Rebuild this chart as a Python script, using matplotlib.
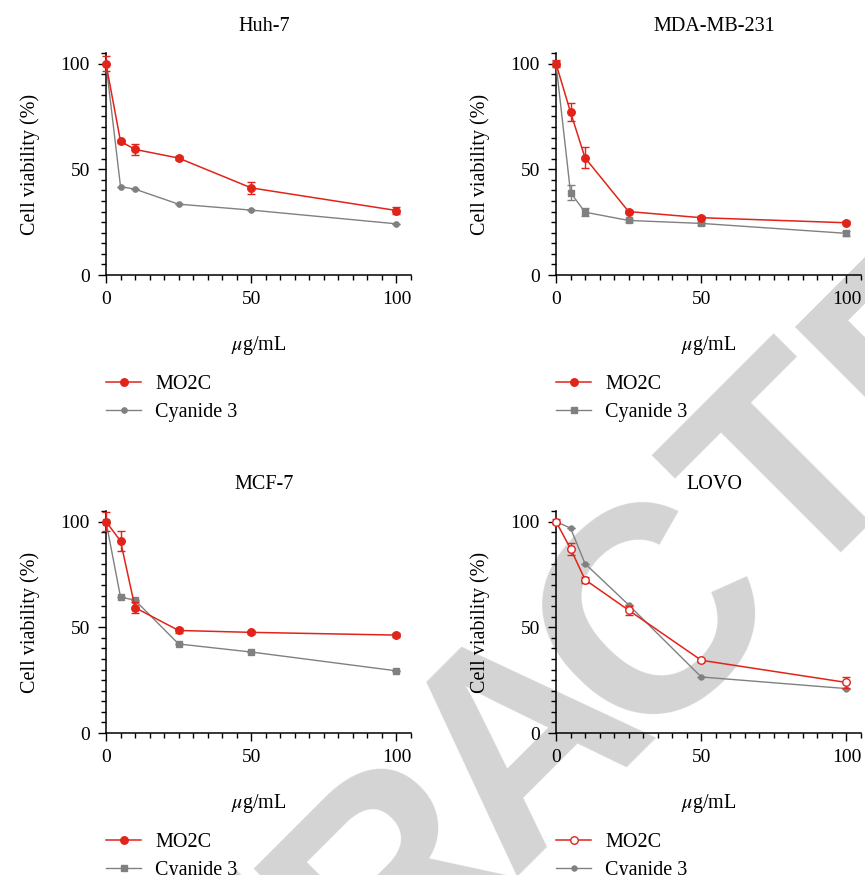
import matplotlib
matplotlib.use("Agg")
import matplotlib.pyplot as plt
from matplotlib.lines import Line2D
from matplotlib.ticker import MultipleLocator

plt.rcParams['font.family'] = 'serif'
plt.rcParams['font.serif'] = ['Liberation Serif', 'DejaVu Serif']
plt.rcParams['mathtext.fontset'] = 'stix'

RED = '#e2231a'
GRAY = '#808080'

conc = [0, 5, 10, 25, 50, 100]

huh7_mo2c = [100, 63.2, 59.4, 55.3, 41.2, 30.5]
huh7_mo2c_err = [3.5, 0.8, 2.6, 1.0, 2.7, 1.6]
huh7_cyan = [100, 41.8, 40.6, 33.5, 30.7, 24.2]
huh7_cyan_err = [0, 0, 0, 0, 0, 0]

mda_mo2c = [100, 77.0, 55.4, 30.0, 27.1, 24.7]
mda_mo2c_err = [1.5, 4.3, 5.0, 0.8, 0.8, 0.8]
mda_cyan = [100, 39.0, 29.7, 25.8, 24.4, 19.7]
mda_cyan_err = [1.0, 3.4, 1.8, 0.8, 0.8, 1.2]

mcf7_mo2c = [100, 90.8, 59.3, 48.5, 47.6, 46.3]
mcf7_mo2c_err = [4.4, 4.8, 2.5, 1.0, 0.8, 0.8]
mcf7_cyan = [100, 64.3, 62.8, 42.1, 38.3, 29.4]
mcf7_cyan_err = [0, 0, 0, 0, 0, 0]

lovo_mo2c = [100, 87.2, 72.5, 58.1, 34.4, 23.9]
lovo_mo2c_err = [1.0, 2.8, 1.5, 2.2, 0.8, 2.5]
lovo_cyan = [100, 96.9, 80.1, 60.6, 26.5, 21.0]
lovo_cyan_err = [0, 0, 0, 0, 0, 0]

titles = ['Huh-7', 'MDA-MB-231', 'MCF-7', 'LOVO']
series_labels = ['MO2C', 'Cyanide 3']

W, H = 865, 875
fig = plt.figure(figsize=(W / 100, H / 100), dpi=100)

# "RETRACTED" watermark, one letter at a time along a 45 degree baseline,
# u = position along the baseline, v = baseline offset (both in pixels)
wm_letters = list('RETRACTED')
wm_u = [-913, -723, -533, -343, -153, 28, 226, 415, 600]
wm_v = 982
for ch, u in zip(wm_letters, wm_u):
    px = (u + wm_v) / 2 ** 0.5
    py = (wm_v - u) / 2 ** 0.5
    fig.text(px / W, 1 - py / H, ch, rotation=45, rotation_mode='anchor',
             ha='center', va='baseline', fontsize=211, fontweight='bold',
             family='Liberation Sans', color='#d4d4d4', zorder=-5)

# (left px, x-axis px) of each panel
origins = [(106, 275), (556, 275), (106, 733), (556, 733)]
panels = [
    (huh7_mo2c, huh7_mo2c_err, huh7_cyan, huh7_cyan_err, False, 'o', 3.8),
    (mda_mo2c, mda_mo2c_err, mda_cyan, mda_cyan_err, False, 's', 4.6),
    (mcf7_mo2c, mcf7_mo2c_err, mcf7_cyan, mcf7_cyan_err, False, 's', 4.4),
    (lovo_mo2c, lovo_mo2c_err, lovo_cyan, lovo_cyan_err, True, 'o', 3.6),
]
aw, ah = 305, 222

for (x0, y0), title, (m, me, c, ce, red_open, mk_gray, gsize) in zip(origins, titles, panels):
    ax = fig.add_axes([x0 / W, 1 - y0 / H, aw / W, ah / H])
    ax.set_facecolor('none')

    red_face = 'white' if red_open else RED
    ax.errorbar(conc, c, yerr=ce, color=GRAY, lw=1.0, marker=mk_gray, ms=gsize,
                capsize=3, elinewidth=1.0, capthick=1.0, clip_on=False, zorder=3)
    ax.errorbar(conc, m, yerr=me, color=RED, lw=1.1, marker='o', ms=5.4,
                mfc=red_face, mec=RED, mew=1.0, capsize=3, elinewidth=1.0,
                capthick=1.0, clip_on=False, zorder=4)

    ax.set_xlim(0, 105)
    ax.set_ylim(0, 105)
    ax.set_xticks([0, 50, 100])
    ax.set_yticks([0, 50, 100])
    ax.xaxis.set_minor_locator(MultipleLocator(5))
    ax.yaxis.set_minor_locator(MultipleLocator(5))
    ax.tick_params(which='major', length=5.5, width=1.0, labelsize=14, pad=6)
    ax.tick_params(which='minor', length=3.3, width=1.0)
    for s in ['top', 'right']:
        ax.spines[s].set_visible(False)
    for s in ['left', 'bottom']:
        ax.spines[s].set_linewidth(1.1)

    ax.set_title(title, fontsize=14.5, x=0.52, pad=15.5)
    ax.set_xlabel(r'$\mu$g/mL', fontsize=14.5, labelpad=19)
    ax.set_ylabel('Cell viability (%)', fontsize=14.5, labelpad=15)

    handles = [
        Line2D([], [], color=RED, lw=1.1, marker='o', ms=5.4, mfc=red_face, mec=RED, mew=1.0),
        Line2D([], [], color=GRAY, lw=1.0, marker=mk_gray, ms=gsize),
    ]
    ax.legend(handles, series_labels, loc='upper left', bbox_to_anchor=(0.0, -0.452),
              frameon=False, fontsize=14.5, handlelength=1.75, handletextpad=0.7,
              borderpad=0, borderaxespad=0, labelspacing=0.42)

fig.savefig('out.png', dpi=100)
